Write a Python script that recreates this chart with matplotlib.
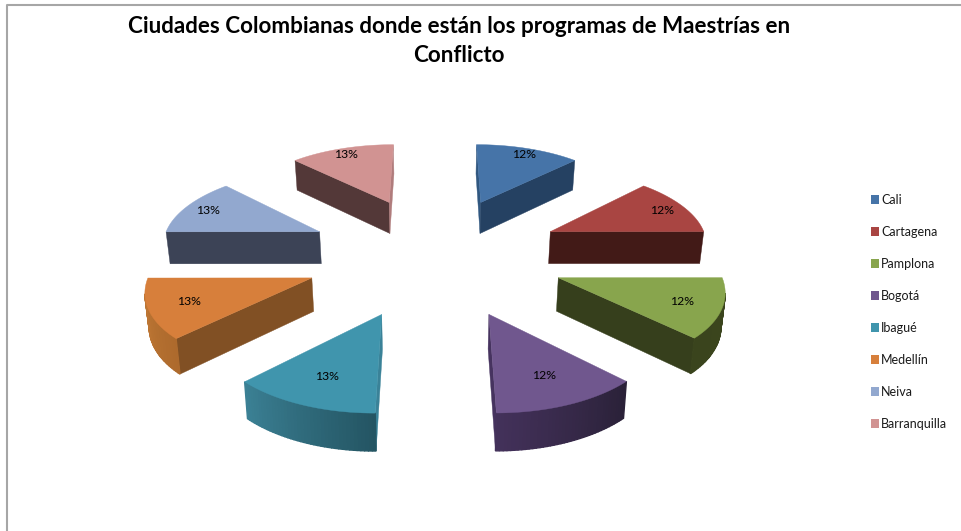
import numpy as np
import matplotlib
matplotlib.use("Agg")
import matplotlib.pyplot as plt
from matplotlib.patches import Polygon, Rectangle
from matplotlib.colors import to_rgb

# ---- data -------------------------------------------------------------
cities = ["Cali", "Cartagena", "Pamplona", "Bogotá", "Ibagué", "Medellín", "Neiva", "Barranquilla"]
shares = [12.49, 12.49, 12.49, 12.49, 12.51, 12.51, 12.51, 12.51]
title = "Ciudades Colombianas donde están los programas de Maestrías en\nConflicto"

top_colors = ["#4674A8", "#A94542", "#88A54D", "#70578E", "#4095AD", "#D77F3B", "#92A8CF", "#D19392"]
start_edge = ["#305780", "#421A17", "#363F1C", "#2C2142", "#3A8298", "#815024", "#3C4356", "#533838"]
end_edge   = ["#254162", "#421A17", "#363F1C", "#46335F", "#3A8298", "#815024", "#3C4356", "#B07C7C"]
arc_start  = ["#254162", "#421A17", "#3C461E", "#2A2138", "#245563", "#AD6A2D", "#3C4356", "#533838"]
arc_end    = ["#254162", "#421A17", "#3A441D", "#43315A", "#3B8094", "#C27A36", "#3C4356", "#533838"]

# ---- projection --------------------------------------------------------
CX, DIST, R, EXPL = 435.0, 1500.0, 158.5, 129.0
VA, VH = 1.05e6, -446.0


def project(x, y):
    s = DIST / (DIST + y)
    return np.array([CX + x * s, VA / (DIST + y) + VH]), s


def lower(pt, s):
    return np.array([CX + (pt[0] - CX) * 0.985, pt[1] + 9.7 + 23.0 * s])


fig = plt.figure(figsize=(9.61, 5.31), dpi=100)
ax = fig.add_axes([0, 0, 1, 1])
ax.set_xlim(0, 961)
ax.set_ylim(531, 0)
ax.axis("off")

plt.rcParams["font.family"] = ["Lato", "DejaVu Sans"]

# frame of the chart area
ax.plot([6.5, 6.5, 961], [531, 5.2, 5.2], color="#A6A6A6", lw=1.5, solid_capstyle="butt")

total = sum(shares)
edges = np.concatenate([[0], np.cumsum(shares)]) / total * 2 * np.pi


def mix(c1, c2, t):
    a, b = np.array(to_rgb(c1)), np.array(to_rgb(c2))
    return tuple(a + (b - a) * t)


def side(a, sa, b, sb, color, lw=0.3):
    """Draw one extruded face if it looks towards the viewer.

    Outlines run clockwise on the screen, so a face is visible when its
    segment runs right-to-left.
    """
    if b[0] - a[0] >= -1e-6:
        return
    ax.add_patch(Polygon([a, b, lower(b, sb), lower(a, sa)], closed=True,
                         facecolor=color, edgecolor=color, lw=lw, zorder=2))


for i in range(len(cities)):
    a0, a1 = edges[i], edges[i + 1]
    mid = (a0 + a1) / 2
    ox, oy = EXPL * np.sin(mid), EXPL * np.cos(mid)
    apex, s_apex = project(ox, oy)
    th = np.linspace(a0, a1, 41)
    rim = [project(ox + R * np.sin(t), oy + R * np.cos(t)) for t in th]
    pts = [r[0] for r in rim]
    ss = [r[1] for r in rim]

    # straight cut faces
    side(apex, s_apex, pts[0], ss[0], start_edge[i])
    side(pts[-1], ss[-1], apex, s_apex, end_edge[i])
    # rim facets, shaded along the arc
    for k in range(len(pts) - 1):
        side(pts[k], ss[k], pts[k + 1], ss[k + 1],
             mix(arc_start[i], arc_end[i], k / (len(pts) - 2)), lw=1.0)
    # top face
    ax.add_patch(Polygon([apex] + pts, closed=True, facecolor=top_colors[i],
                         edgecolor=top_colors[i], lw=0.3, zorder=3))
    # percentage label
    frac = 0.80 + 0.10 * np.cos(mid)
    rr = EXPL + frac * R
    p, _ = project(rr * np.sin(mid), rr * np.cos(mid))
    ax.text(p[0], p[1], f"{shares[i]:.0f}%", ha="center", va="center",
            fontsize=8.8, color="black", zorder=5)

ax.text(459, 41, title, ha="center", va="center", fontsize=16.1, fontweight="bold",
        color="black", linespacing=1.45, zorder=5)

handles = [Rectangle((0, 0), 1, 1, facecolor=c, edgecolor="none") for c in top_colors]
ax.legend(handles, cities, loc="center left", bbox_to_anchor=(871 / 961, 1 - 312 / 531),
          frameon=False, fontsize=9.0, handlelength=0.64, handleheight=0.64,
          handletextpad=0.16, labelspacing=1.6, borderpad=0, borderaxespad=0,
          labelcolor="#1A1A1A")

fig.savefig("out.png", dpi=100, facecolor="white")
